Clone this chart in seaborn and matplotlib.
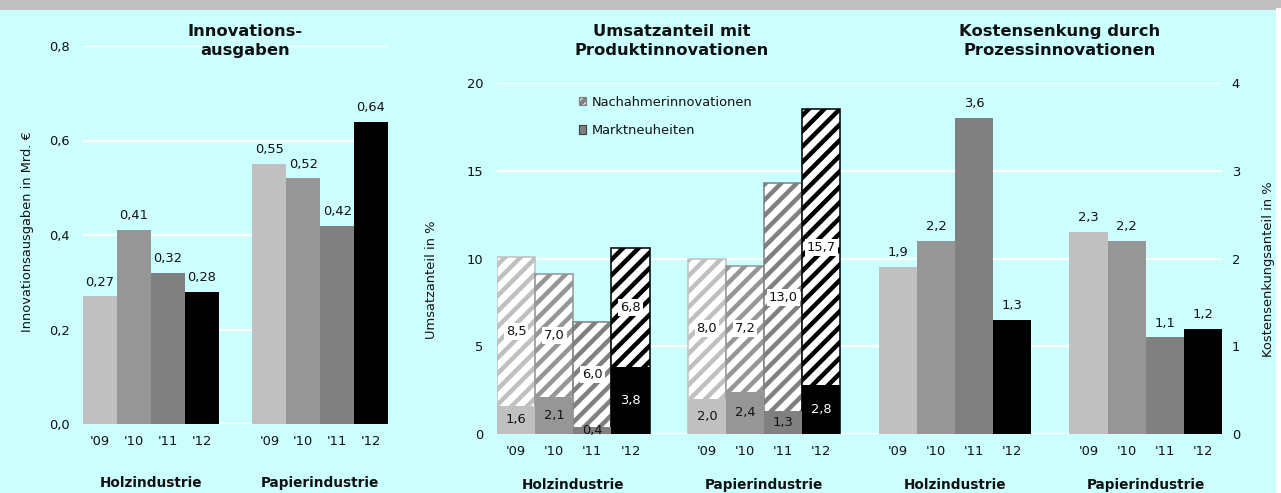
import numpy as np
import pandas as pd
import matplotlib
matplotlib.use("Agg")
import matplotlib.pyplot as plt
from matplotlib.patches import Rectangle, Patch
import seaborn as sns

# ---------------- data ----------------
years = ["'09", "'10", "'11", "'12"]
groups = ["Holzindustrie", "Papierindustrie"]
year_colors = ["#C0C0C0", "#969696", "#808080", "#000000"]

ausgaben_holz = [0.27, 0.41, 0.32, 0.28]
ausgaben_papier = [0.55, 0.52, 0.42, 0.64]

markt_holz = [1.6, 2.1, 0.4, 3.8]
nach_holz = [8.5, 7.0, 6.0, 6.8]
markt_papier = [2.0, 2.4, 1.3, 2.8]
nach_papier = [8.0, 7.2, 13.0, 15.7]

kosten_holz = [1.9, 2.2, 3.6, 1.3]
kosten_papier = [2.3, 2.2, 1.1, 1.2]

titles = ["Innovations-\nausgaben",
          "Umsatzanteil mit\nProduktinnovationen",
          "Kostensenkung durch\nProzessinnovationen"]
ylabels = ["Innovationsausgaben in Mrd. \u20ac", "Umsatzanteil in %",
           "Kostensenkungsanteil in %"]
legend_labels = ["Nachahmerinnovationen", "Marktneuheiten"]

# ---------------- style ----------------
sns.set_theme(style="white")
plt.rcParams["font.family"] = ["DejaVu Sans"]
plt.rcParams["hatch.linewidth"] = 2.3
BG = "#CCFFFF"
TXT = "#111111"
FS = 6.7
W, H, DPI = 1281, 493, 140

fig = plt.figure(figsize=(W / DPI, H / DPI), dpi=DPI, facecolor=BG)
fig.patches.append(Rectangle((0, 1 - 9 / H), 1, 9 / H, transform=fig.transFigure,
                             color="#C0C0C0", zorder=-10))
fig.patches.append(Rectangle((1277 / W, 0), 4 / W, 1 - 9 / H, transform=fig.transFigure,
                             color="white", zorder=-10))


def fig_axes(x0, x1, ytop, ybot):
    return fig.add_axes([x0 / W, (H - ybot) / H, (x1 - x0) / W, (ybot - ytop) / H])


pal = dict(zip(years, year_colors))
slots_h = ["H" + y for y in years]
slots_p = ["P" + y for y in years]
order = slots_h + ["_gap"] + slots_p


def make_df(vh, vp, name="value"):
    return pd.DataFrame({"slot": slots_h + slots_p, "year": years * 2, name: list(vh) + list(vp)})


def fmt(v, nd):
    return f"{v:.{nd}f}".replace(".", ",")


def style_axes(ax, ylim, yticks, ytfmt, right=False):
    ax.set_facecolor("none")
    for s in ax.spines.values():
        s.set_visible(False)
    ax.set_ylim(*ylim)
    ax.set_yticks(yticks)
    ax.set_yticklabels([ytfmt(t) for t in yticks], fontsize=FS, color=TXT)
    ax.grid(axis="y", color="white", linewidth=1.2)
    ax.set_axisbelow(True)
    ax.tick_params(axis="y", length=0, pad=7 if not right else 5)
    if right:
        ax.yaxis.tick_right()
        ax.yaxis.set_label_position("right")
    ax.set_xlabel("")


def year_ticks(ax, positions):
    ax.set_xticks(positions)
    ax.set_xticklabels(years * 2, fontsize=FS, color=TXT)
    ax.tick_params(axis="x", length=0, pad=5.5)


def group_labels(ax, yfrac):
    for g, c in zip(groups, [1.5, 6.5]):
        ax.text(c, yfrac, g, transform=ax.get_xaxis_transform(), ha="center",
                va="center", fontsize=7.0, fontweight="bold", color=TXT)


# ---------------- left panel ----------------
ax_l = fig_axes(83, 388, 46, 424)
df_l = make_df(ausgaben_holz, ausgaben_papier)
sns.barplot(data=df_l, x="slot", y="value", hue="year", palette=pal, order=order,
            hue_order=years, dodge=False, width=1.0, saturation=1, legend=False,
            errorbar=None, ax=ax_l, linewidth=0)
ax_l.set_xlim(-0.5, 8.5)
style_axes(ax_l, (0, 0.8), [0, 0.2, 0.4, 0.6, 0.8], lambda t: fmt(t, 1))
year_ticks(ax_l, [0, 1, 2, 3, 5, 6, 7, 8])
ax_l.set_ylabel(ylabels[0], fontsize=FS, color=TXT)
ax_l.yaxis.set_label_coords(-0.16, 0.51)
for p in ax_l.patches:
    h = p.get_height()
    if np.isfinite(h) and h > 0:
        ax_l.annotate(fmt(h, 2), (p.get_x() + p.get_width() / 2, h), xytext=(0, 4),
                      textcoords="offset points", ha="center", va="bottom",
                      fontsize=FS, color=TXT)
group_labels(ax_l, -0.155)

# ---------------- middle panel ----------------
ax_m = fig_axes(497, 859.5, 83, 434)
df_m = make_df(markt_holz, markt_papier, "markt")
df_m["nach"] = nach_holz + nach_papier
df_m["total"] = df_m["markt"] + df_m["nach"]
sns.barplot(data=df_m, x="slot", y="total", hue="year", palette=pal, order=order,
            hue_order=years, dodge=False, width=1.0, saturation=1, legend=False,
            errorbar=None, ax=ax_m)
for p in ax_m.patches:
    c = p.get_facecolor()
    p.set_facecolor("white")
    p.set_edgecolor(c)
    p.set_linewidth(0.8)
    p.set_hatch("///")
sns.barplot(data=df_m, x="slot", y="markt", hue="year", palette=pal, order=order,
            hue_order=years, dodge=False, width=1.0, saturation=1, legend=False,
            errorbar=None, ax=ax_m, linewidth=0)
ax_m.set_xlim(-0.5, 9.0)
style_axes(ax_m, (0, 20), [0, 5, 10, 15, 20], lambda t: f"{t:g}")
year_ticks(ax_m, [0, 1, 2, 3, 5, 6, 7, 8])
ax_m.set_ylabel(ylabels[1], fontsize=FS, color=TXT)
ax_m.yaxis.set_label_coords(-0.163, 0.44)
for _, r in df_m.iterrows():
    x = order.index(r["slot"])
    ax_m.text(x, r["markt"] + r["nach"] / 2, fmt(r["nach"], 1), ha="center", va="center",
              fontsize=FS, color=TXT,
              bbox=dict(boxstyle="square,pad=0.15", facecolor="white", edgecolor="none"))
    ax_m.text(x, r["markt"] / 2, fmt(r["markt"], 1), ha="center", va="center",
              fontsize=FS, color="white" if r["year"] == "'12" else TXT)
group_labels(ax_m, -0.145)

handles = [Patch(facecolor="white", edgecolor="#808080", hatch="//////", linewidth=0.6),
           Patch(facecolor="#808080", edgecolor="#404040", linewidth=0.6)]
ax_m.legend(handles, legend_labels, loc="upper left",
            bbox_to_anchor=(572 / W, 1 - 89 / H), bbox_transform=fig.transFigure,
            frameon=False, fontsize=FS, handlelength=0.6, handleheight=0.6,
            handletextpad=0.4, labelspacing=1.2, borderpad=0, labelcolor=TXT)

# ---------------- right panel ----------------
ax_r = fig_axes(859.5, 1222, 83, 434)
df_r = make_df(kosten_holz, kosten_papier)
sns.barplot(data=df_r, x="slot", y="value", hue="year", palette=pal, order=order,
            hue_order=years, dodge=False, width=1.0, saturation=1, legend=False,
            errorbar=None, ax=ax_r, linewidth=0)
ax_r.set_xlim(-1.0, 8.5)
style_axes(ax_r, (0, 4), [0, 1, 2, 3, 4], lambda t: f"{t:g}", right=True)
year_ticks(ax_r, [0, 1, 2, 3, 5, 6, 7, 8])
ax_r.set_ylabel(ylabels[2], fontsize=FS, color=TXT)
ax_r.yaxis.set_label_coords(1.11, 0.47)
for p in ax_r.patches:
    h = p.get_height()
    if np.isfinite(h) and h > 0:
        ax_r.annotate(fmt(h, 1), (p.get_x() + p.get_width() / 2, h), xytext=(0, 4),
                      textcoords="offset points", ha="center", va="bottom",
                      fontsize=FS, color=TXT)
group_labels(ax_r, -0.145)

# ---------------- titles ----------------
for t, (cx, cy) in zip(titles, [(245, 41), (672, 41), (1060, 41)]):
    fig.text(cx / W, 1 - cy / H, t, ha="center", va="center", fontsize=8.4,
             fontweight="bold", color=TXT, linespacing=1.4)

fig.savefig("out.png", dpi=DPI, facecolor=BG)
